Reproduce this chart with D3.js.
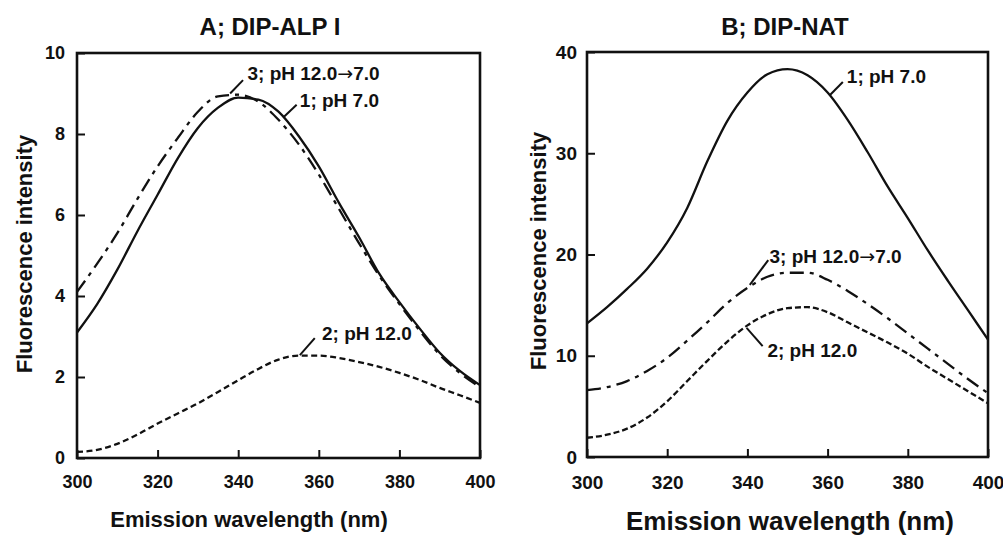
<!DOCTYPE html>
<html>
<head>
<meta charset="utf-8">
<script src="https://cdn.jsdelivr.net/npm/d3@7"></script>
<style>
  body { margin: 0; background: #fff; }
  svg text { font-family: "Liberation Sans", Arial, Helvetica, sans-serif; font-weight: bold; fill: #111; }
</style>
</head>
<body>
<svg id="canvas" width="1003" height="539"></svg>
<script>
// emission wavelengths (nm) shared by every trace
let wavelengths = [300,305,310,315,320,325,330,335,340,345,350,355,360,365,370,375,380,385,390,395,400];

// panel A; DIP-ALP I
let alp_ph7    = [3.1,3.8,4.65,5.6,6.5,7.4,8.15,8.65,8.9,8.85,8.55,7.95,7.2,6.3,5.45,4.55,3.85,3.2,2.6,2.15,1.8];
let alp_ph12   = [0.15,0.2,0.35,0.58,0.85,1.1,1.35,1.63,1.92,2.2,2.43,2.53,2.53,2.47,2.37,2.25,2.1,1.93,1.73,1.55,1.36];
let alp_ph12to7= [4.1,4.8,5.55,6.4,7.2,7.9,8.55,8.93,8.97,8.8,8.35,7.75,7.0,6.15,5.3,4.5,3.8,3.15,2.55,2.1,1.75];

// panel B; DIP-NAT
let nat_ph7    = [13.2,14.8,16.6,18.6,21.2,24.6,29.2,33.2,36.0,37.8,38.3,37.7,36.0,33.3,30.1,26.7,23.6,20.4,17.4,14.5,11.6];
let nat_ph12   = [1.9,2.2,2.8,3.9,5.5,7.5,9.5,11.4,13.0,14.1,14.7,14.8,14.3,13.3,12.3,11.3,10.2,8.9,7.7,6.5,5.3];
let nat_ph12to7= [6.6,6.9,7.5,8.5,9.8,11.5,13.3,15.2,16.7,17.8,18.2,18.2,17.5,16.4,15.1,13.7,12.2,10.7,9.2,7.7,6.3];

let xTicks = [300,320,340,360,380,400];
let alpTicks = [0,2,4,6,8,10];
let natTicks = [0,10,20,30,40];

let canvas = d3.select("#canvas");

let drawPanel = (p) => {
  let x = d3.scaleLinear().domain([300,400]).range([p.left,p.right]);
  let y = d3.scaleLinear().domain([0,p.ymax]).range([p.bottom,p.top]);

  let line = d3.line()
    .x((d,i) => x(wavelengths[i]))
    .y(d => y(d))
    .curve(d3.curveMonotoneX);

  p.series.forEach(s => {
    canvas.append("path")
      .attr("d", line(s.values))
      .attr("fill","none")
      .attr("stroke","#111")
      .attr("stroke-width",2.3)
      .attr("stroke-dasharray", s.dash);
  });

  let xAxis = canvas.append("g")
    .attr("transform","translate(0,"+p.bottom+")")
    .call(d3.axisBottom(x).tickValues(xTicks).tickSize(-8).tickPadding(p.xpad));
  let yAxis = canvas.append("g")
    .attr("transform","translate("+p.left+",0)")
    .call(d3.axisLeft(y).tickValues(p.yTicks).tickSize(-8).tickPadding(p.ypad));
  [xAxis,yAxis].forEach(a => {
    a.select(".domain").remove();
    a.selectAll("line").attr("stroke","#111").attr("stroke-width",2);
    a.selectAll("text").attr("font-size",p.tickFont).style("font-family",'"Liberation Sans", Arial, sans-serif').style("font-weight","bold").attr("fill","#111");
  });

  canvas.append("rect")
    .attr("x",p.left).attr("y",p.top)
    .attr("width",p.right-p.left).attr("height",p.bottom-p.top)
    .attr("fill","none").attr("stroke","#111").attr("stroke-width",2.6);

  canvas.append("text")
    .attr("x",p.titleX).attr("y",35)
    .attr("text-anchor","middle").attr("font-size",24)
    .text(p.title);

  canvas.append("text")
    .attr("transform","translate("+p.ylabX+","+p.ylabY+") rotate(-90)")
    .attr("text-anchor","middle").attr("font-size",22)
    .text("Fluorescence intensity");

  canvas.append("text")
    .attr("x",p.xlabX).attr("y",p.xlabY)
    .attr("text-anchor","middle").attr("font-size",p.xlabFont)
    .text("Emission wavelength (nm)");

  p.notes.forEach(n => {
    canvas.append("line")
      .attr("x1",x(n.from[0])).attr("y1",y(n.from[1]))
      .attr("x2",x(n.to[0])).attr("y2",y(n.to[1]))
      .attr("stroke","#111").attr("stroke-width",2);
    let t = canvas.append("text")
      .attr("x",x(n.at[0])).attr("y",y(n.at[1]))
      .attr("font-size",19);
    let parts = n.label.split("\u2192");
    t.append("tspan").text(parts[0]);
    if (parts.length > 1) {
      t.append("tspan").style("font-family",'"DejaVu Sans", sans-serif').style("font-weight","normal").text("\u2192");
      t.append("tspan").text(parts[1]);
    }
  });
};

drawPanel({
  left:77, right:480, top:53, bottom:458, ymax:10, yTicks:alpTicks,
  xpad:17, ypad:12, tickFont:18,
  title:"A; DIP-ALP I", titleX:270,
  ylabX:32, ylabY:254,
  xlabX:249, xlabY:527, xlabFont:22,
  series:[
    {values:alp_ph7, dash:null},
    {values:alp_ph12, dash:"6,3.5"},
    {values:alp_ph12to7, dash:"14,6,4,6"}
  ],
  notes:[
    {label:"3; pH 12.0\u21927.0", from:[338,9.0], to:[341.2,9.33], at:[342.3,9.33]},
    {label:"1; pH 7.0", from:[351.3,8.42], to:[354.5,8.72], at:[355.3,8.67]},
    {label:"2; pH 12.0", from:[355.3,2.54], to:[359,2.96], at:[360.8,2.91]}
  ]
});

drawPanel({
  left:587, right:988, top:52, bottom:457, ymax:40, yTicks:natTicks,
  xpad:19, ypad:10, tickFont:19,
  title:"B; DIP-NAT", titleX:785,
  ylabX:546, ylabY:251,
  xlabX:790, xlabY:530, xlabFont:26,
  series:[
    {values:nat_ph7, dash:null},
    {values:nat_ph12, dash:"6,3"},
    {values:nat_ph12to7, dash:"14,6,4,6"}
  ],
  notes:[
    {label:"1; pH 7.0", from:[360.6,35.75], to:[363.8,37.04], at:[364.8,36.94]},
    {label:"3; pH 12.0\u21927.0", from:[340.6,17.0], to:[345.2,19.45], at:[345.5,19.2]},
    {label:"2; pH 12.0", from:[339.8,12.75], to:[343.8,10.95], at:[345,9.85]}
  ]
});
</script>
</body>
</html>
